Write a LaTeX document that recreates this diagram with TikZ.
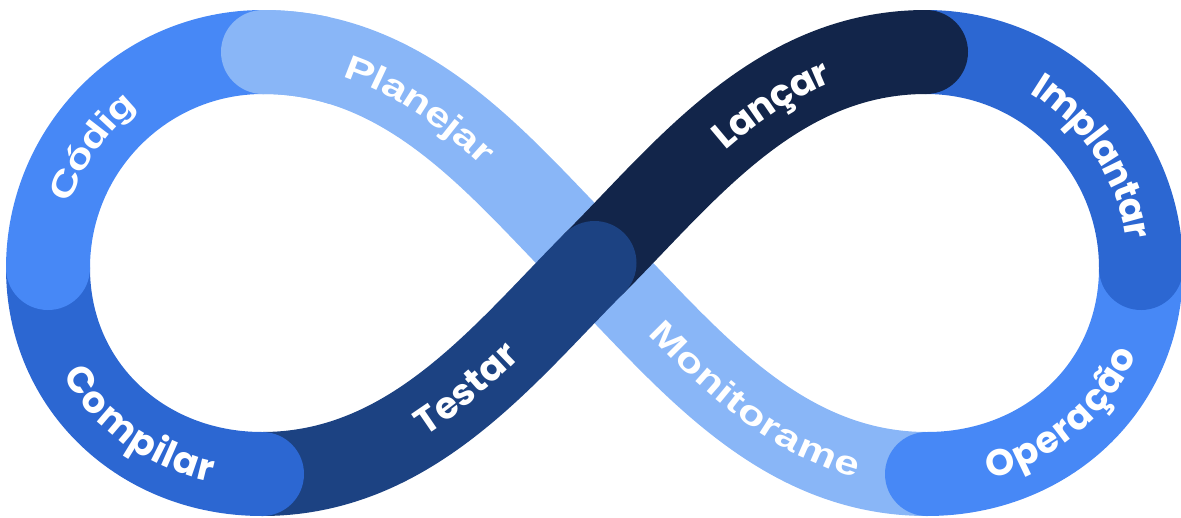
\documentclass[tikz,border=0pt]{standalone}
\usepackage{fontspec}
\usetikzlibrary{decorations.text}
\newfontfamily\wideSans{Liberation Sans}[FakeStretch=1.3]
\newfontfamily\geoSans{Poppins}
\definecolor{loopMid}{HTML}{4788F6}
\definecolor{loopLight}{HTML}{89B6F7}
\definecolor{loopNavy}{HTML}{12254A}
\definecolor{loopDeep}{HTML}{1C4282}
\definecolor{loopRoyal}{HTML}{2C67D2}
\tikzset{
  band/.style={line width=84pt, line cap=round},
  sanslabel/.style 2 args={decorate, decoration={text along path, text color=white,
      raise=-12pt, text align={center,#2},
      text={|\wideSans\bfseries\fontsize{34}{38}\selectfont|#1}}},
  geolabel/.style 2 args={decorate, decoration={text along path, text color=white,
      raise=-13pt, text align={center,#2},
      text={|\geoSans\bfseries\fontsize{37}{40}\selectfont|#1}}}
}
\begin{document}
\begin{tikzpicture}[x=1pt,y=-1pt]
\useasboundingbox (0,0) rectangle (1181,517);
% key points of the figure-eight centre line
\coordinate (L)  at (48,268);
\coordinate (T1) at (263,52);
\coordinate (X)  at (594.5,263);
\coordinate (B2) at (927,474);
\coordinate (R)  at (1141,268);
\coordinate (T2) at (926,52);
\coordinate (B1) at (262,474);

% light diagonal band (Planejar + Monitorame)
\draw[band, loopLight] (T1) .. controls (413,52) and (504.5,173) .. (X)
                            .. controls (684.5,353) and (777,474) .. (B2);
% Operação
\draw[band, loopMid] (B2) .. controls (1046,474) and (1141,387) .. (R);
% Implantar
\draw[band, loopRoyal] (R) .. controls (1141,149) and (1045,52) .. (T2);
% Lançar
\draw[band, loopNavy] (T2) .. controls (776,52) and (684.5,173) .. (X);
% Testar
\draw[band, loopDeep] (X) .. controls (504.5,353) and (412,474) .. (B1);
% Compilar
\draw[band, loopRoyal] (B1) .. controls (143,474) and (48,387) .. (L);
% Códig
\draw[band, loopMid] (L) .. controls (48,149) and (144,52) .. (T1);
% rounded start of Planejar laid over Códig
\begin{scope}
  \clip (200,0) rectangle (330,115);
  \draw[band, loopLight] (T1) .. controls (413,52) and (504.5,173) .. (X);
\end{scope}

% labels
\path[sanslabel={Códig}{right indent=73pt}] (L) .. controls (48,149) and (144,52) .. (T1);
\path[sanslabel={Planejar}{right indent=64pt}] (T1) .. controls (413,52) and (504.5,173) .. (X);
\path[sanslabel={Monitorame}{left indent=20pt}] (X) .. controls (684.5,353) and (777,474) .. (B2);
\path[geolabel={Operação}{right indent=22pt}] (B2) .. controls (1046,474) and (1141,387) .. (R);
\path[geolabel={Implantar}{left indent=86pt}] (T2) .. controls (1045,52) and (1141,149) .. (R);
\path[geolabel={Lançar}{left indent=72pt}] (X) .. controls (684.5,173) and (776,52) .. (T2);
\path[geolabel={Testar}{left indent=47pt}] (B1) .. controls (412,474) and (504.5,353) .. (X);
\path[geolabel={Compilar}{left indent=56pt}] (L) .. controls (48,387) and (143,474) .. (B1);
\end{tikzpicture}
\end{document}
